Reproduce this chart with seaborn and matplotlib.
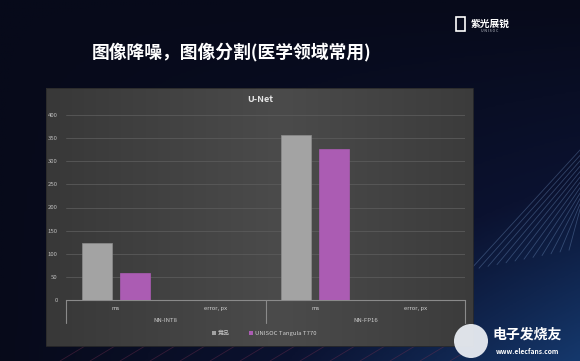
import numpy as np
import pandas as pd
import matplotlib
matplotlib.use("Agg")
import matplotlib.pyplot as plt
from matplotlib.patches import Rectangle, Polygon, Circle
import seaborn as sns

# ---- data ----
groups = ["NN-INT8", "NN-INT8", "NN-FP16", "NN-FP16"]
metrics = ["ms", "error, px", "ms", "error, px"]
series_names = ["竞品", "UNISOC Tangula T770"]
competitor = [123, 0, 356, 0]
t770 = [58, 0, 326, 0]
y_ticks = [0, 50, 100, 150, 200, 250, 300, 350, 400]
page_title = "图像降噪，图像分割(医学领域常用)"
chart_title = "U-Net"

cats = [f"{g}|{m}" for g, m in zip(groups, metrics)]
df = pd.DataFrame({
    "cat": cats * 2,
    "value": competitor + t770,
    "series": [series_names[0]] * 4 + [series_names[1]] * 4,
})

sns.set_theme(style="white")
plt.rcParams["font.family"] = ["Noto Sans CJK SC", "DejaVu Sans"]

W, H = 580, 361
fig = plt.figure(figsize=(W / 100, H / 100), dpi=100)
fig.patch.set_facecolor("#0a0e22")

# background decorations (full-figure axes)
bg = fig.add_axes([0, 0, 1, 1])
bg.set_xlim(0, W)
bg.set_ylim(H, 0)
bg.axis("off")
grad = np.linspace(0, 1, 200)[None, :] * np.linspace(0, 1, 200)[:, None]
bg.imshow(grad, extent=[0, W, H, 0], cmap=matplotlib.colors.LinearSegmentedColormap.from_list(
    "bgc", ["#070a1a", "#0b1230", "#15386c"]), aspect="auto", zorder=0)
for i in range(12):
    off = i * 9
    bg.plot([470 + off, 580], [270 - off * 0.2, 150 + off * 0.6], color="#7a9fd0", lw=0.6, alpha=0.35, zorder=1)
for i in range(14):
    x0 = 60 + i * 30
    bg.plot([x0, x0 + 25], [361, 346], color="#7a3050", lw=0.6, alpha=0.4, zorder=1)

# chart panel with gradient
px0, px1, py0, py1 = 46, 473, 88, 346
panel_grad = np.linspace(0, 1, 256)
pg = np.abs(panel_grad - 0.55)[None, :]
bg.imshow(pg, extent=[px0, px1, py1, py0], cmap=matplotlib.colors.LinearSegmentedColormap.from_list(
    "pan", ["#4b4b4b", "#383838"]), aspect="auto", zorder=2, vmin=0, vmax=0.55)
bg.add_patch(Rectangle((px0, py0), px1 - px0, py1 - py0, fill=False, ec="#2a2a2a", lw=0.6, zorder=3))

# page title & logos
bg.text(232, 52, page_title, color="white", fontsize=12.8, fontweight="bold",
        ha="center", va="center", zorder=5)
bg.text(490, 24, "紫光展锐", color="white", fontsize=7, fontweight="bold", ha="center", va="center", zorder=5)
bg.text(490, 31, "U N I S O C", color="#cfd3dc", fontsize=2.6, ha="center", va="center", zorder=5)
bg.add_patch(Rectangle((456, 17), 9, 14, fill=False, ec="white", lw=1.2, zorder=5))
bg.add_patch(Circle((471, 341), 17, fc="#e8ecf2", ec="none", zorder=5, alpha=0.95))
bg.text(527, 335, "电子发烧友", color="white", fontsize=10, fontweight="bold", ha="center", va="center", zorder=5)
bg.text(527, 351, "www.elecfans.com", color="white", fontsize=4.8, fontweight="bold", ha="center", va="center", zorder=5)

# chart title
bg.text(260, 100, chart_title, color="#e6e6e6", fontsize=6.5, fontweight="bold", ha="center", va="center", zorder=5)

# main axes
ax = fig.add_axes([66 / W, 1 - 300 / H, (465 - 66) / W, (300 - 115) / H])
ax.set_facecolor("none")
sns.barplot(data=df, x="cat", y="value", hue="series", order=cats, hue_order=series_names,
            palette=["#a3a3a3", "#ab5cb3"], saturation=1, width=0.76, gap=0.21, ax=ax,
            edgecolor="#8c8c8c", linewidth=0.5, legend=False, zorder=3)
for p in ax.patches[4:]:
    p.set_edgecolor("#ab5cb3")

ax.set_ylim(0, 400)
ax.set_xlim(-0.5, 3.5)
ax.set_yticks(y_ticks)
ax.set_yticklabels([str(v) for v in y_ticks], color="#bdbdbd", fontsize=4.3)
ax.tick_params(axis="y", length=0, pad=6)
ax.set_xticks([])
ax.set_xlabel("")
ax.set_ylabel("")
for v in y_ticks[1:]:
    ax.axhline(v, color="#5a5a5a", lw=0.6, zorder=1)
for s in ["top", "right", "left"]:
    ax.spines[s].set_visible(False)
ax.spines["bottom"].set_color("#8a8a8a")
ax.spines["bottom"].set_linewidth(0.8)

# multi-level category axis
trans = matplotlib.transforms.blended_transform_factory(ax.transData, ax.transAxes)
for i, m in enumerate(metrics):
    ax.text(i, -0.045, m, transform=trans, ha="center", va="center", fontsize=4.3, color="#cfcfcf", clip_on=False)
for gi, g in enumerate(["NN-INT8", "NN-FP16"]):
    ax.text(gi * 2 + 0.5, -0.11, g, transform=trans, ha="center", va="center", fontsize=4.3, color="#cfcfcf", clip_on=False)
for xs in [-0.5, 1.5, 3.5]:
    ax.plot([xs, xs], [0, -0.125], transform=trans, color="#8a8a8a", lw=0.8, clip_on=False)

# legend
bg.add_patch(Rectangle((212, 331), 3.5, 3.5, fc="#a3a3a3", ec="none", zorder=5))
bg.text(218, 333, series_names[0], color="#cfcfcf", fontsize=4.3, ha="left", va="center", zorder=5)
bg.add_patch(Rectangle((249, 331), 3.5, 3.5, fc="#ab5cb3", ec="none", zorder=5))
bg.text(255, 333, series_names[1], color="#cfcfcf", fontsize=4.3, ha="left", va="center", zorder=5)

fig.savefig("out.png", dpi=100, facecolor=fig.get_facecolor())
